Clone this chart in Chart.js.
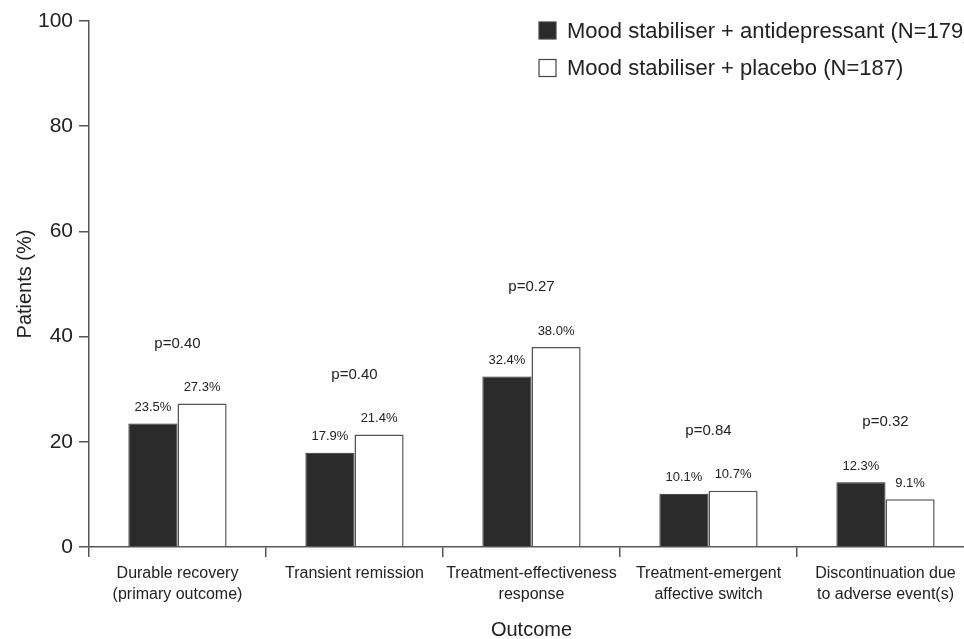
<!DOCTYPE html>
<html>
<head>
<meta charset="utf-8">
<script src="https://cdn.jsdelivr.net/npm/chart.js@4/dist/chart.umd.min.js"></script>
<style>
    html, body { margin: 0; padding: 0; background: #fff; overflow: hidden; }
    #wrap { width: 980px; height: 639px; }
</style>
</head>
<body>
<div id="wrap"><canvas id="myChart" width="980" height="639"></canvas></div>
<script>
const categories = [
    ['Durable recovery', '(primary outcome)'],
    ['Transient remission'],
    ['Treatment-effectiveness', 'response'],
    ['Treatment-emergent', 'affective switch'],
    ['Discontinuation due', 'to adverse event(s)']
];
const antidepressant = [23.5, 17.9, 32.4, 10.1, 12.3];
const placebo = [27.3, 21.4, 38.0, 10.7, 9.1];
const pValues = ['p=0.40', 'p=0.40', 'p=0.27', 'p=0.84', 'p=0.32'];
const yTicks = [0, 20, 40, 60, 80, 100];

const FONT = "'Liberation Sans', Arial, sans-serif";
const TEXT = '#222';

// value labels, p-values and legend
const annotate = {
    id: 'annotate',
    afterDatasetsDraw(chart) {
        const ctx = chart.ctx;
        const y = chart.scales.y;
        ctx.save();
        ctx.fillStyle = TEXT;
        ctx.textAlign = 'center';
        ctx.textBaseline = 'middle';
        ctx.font = '13px ' + FONT;
        chart.data.datasets.forEach(function (ds, di) {
            chart.getDatasetMeta(di).data.forEach(function (bar, i) {
                ctx.fillText(ds.data[i].toFixed(1) + '%', bar.x, bar.y - 16);
            });
        });
        ctx.font = '15px ' + FONT;
        pValues.forEach(function (p, i) {
            const top = Math.max(antidepressant[i], placebo[i]);
            const x = chart.scales.x.getPixelForValue(i);
            ctx.fillText(p, x, y.getPixelForValue(top) - 60);
        });
        // legend
        ctx.textAlign = 'left';
        ctx.font = '22px ' + FONT;
        chart.data.datasets.forEach(function (ds, di) {
            const cy = 30.5 + di * 37.5;
            ctx.fillStyle = ds.backgroundColor;
            ctx.fillRect(539, cy - 8.5, 17, 17);
            ctx.strokeStyle = '#444';
            ctx.lineWidth = 1.2;
            ctx.strokeRect(539, cy - 8.5, 17, 17);
            ctx.fillStyle = TEXT;
            ctx.fillText(ds.label, 567, cy + 1);
        });
        ctx.restore();
    }
};

const data = {
    labels: categories,
    datasets: [
        {
            label: 'Mood stabiliser + antidepressant (N=179)',
            data: antidepressant,
            backgroundColor: '#2b2b2b',
            borderColor: '#2b2b2b',
            borderWidth: 1
        },
        {
            label: 'Mood stabiliser + placebo (N=187)',
            data: placebo,
            backgroundColor: '#ffffff',
            borderColor: '#555',
            borderWidth: 1.5
        }
    ]
};

const config = {
    type: 'bar',
    data: data,
    plugins: [annotate],
    options: {
        responsive: false,
        devicePixelRatio: 1,
        animation: false,
        layout: { padding: { top: 21, right: 6, bottom: 0, left: 0 } },
        plugins: { legend: { display: false }, tooltip: { enabled: false } },
        datasets: { bar: { barPercentage: 1, categoryPercentage: 0.555, borderSkipped: 'bottom' } },
        scales: {
            x: {
                afterFit: function (s) { s.height = 92; },
                border: { color: '#555', width: 1.5 },
                grid: { offset: true, drawOnChartArea: false, drawTicks: true, tickLength: 10, color: '#555', lineWidth: 1.5 },
                ticks: { color: TEXT, font: { family: FONT, size: 16, lineHeight: 1.3 }, padding: 6, maxRotation: 0, autoSkip: false },
                title: { display: true, text: 'Outcome', color: TEXT, font: { family: FONT, size: 20 }, padding: { top: 0, bottom: -3 } }
            },
            y: {
                min: 0,
                max: 100,
                afterFit: function (s) { s.width = 89; },
                afterBuildTicks: function (s) { s.ticks = yTicks.map(function (v) { return { value: v }; }); },
                border: { color: '#555', width: 1.5 },
                grid: { drawOnChartArea: false, drawTicks: true, tickLength: 10, color: '#555', lineWidth: 1.5 },
                ticks: { color: TEXT, font: { family: FONT, size: 21 }, padding: 6 },
                title: { display: true, text: 'Patients (%)', color: TEXT, font: { family: FONT, size: 20 }, padding: { top: 13, bottom: 0 } }
            }
        }
    }
};

const myChart = new Chart(document.getElementById('myChart').getContext('2d'), config);
</script>
</body>
</html>
